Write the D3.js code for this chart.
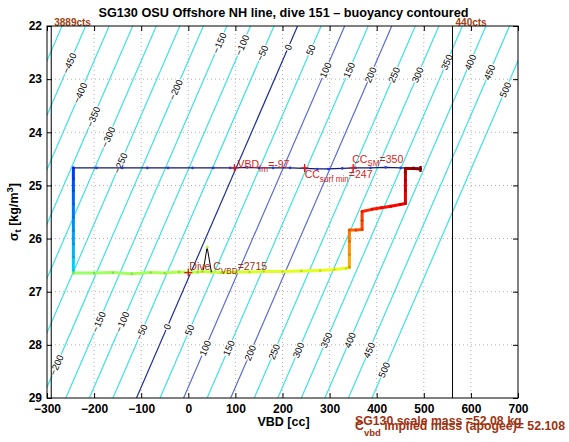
<!DOCTYPE html>
<html><head><meta charset="utf-8">
<script src="https://cdn.jsdelivr.net/npm/d3@7"></script>
<style>body{margin:0;background:#fff}svg{display:block}</style>
</head><body><svg id="c" width="569" height="442"></svg>
<script>
// ---------------- data ----------------
const xTicks = [-300,-200,-100,0,100,200,300,400,500,600,700];
const yTicks = [22,23,24,25,26,27,28,29];

// buoyancy contours: level, VBD where contour meets sigma=22 and sigma=29
const contourLevels     = [-500,-450,-400,-350,-300,-250,-200,-150,-100,-50,0,50,100,150,200,250,300,350,400,450,500];
const contourVbdTop     = [-268,-218,-168,-118,-68,-18,32,82,132,182,232,282,332,382,432,482,532,582,632,682,732];
const contourVbdBottom  = [-610,-560,-510,-460,-410,-360,-310,-260,-210,-160,-110,-60,-10,40,90,140,190,240,290,340,390];
const contourLabelSigmaTop    = [null,22.70,23.26,23.71,24.09,24.58,23.20,22.32,22.36,22.51,22.40,22.45,22.83,22.83,22.92,22.92,22.92,22.68,22.68,22.87,23.20];
const contourLabelSigmaBottom = [null,null,null,null,null,null,28.38,27.57,27.57,27.76,27.66,27.72,28.06,28.06,28.15,28.13,28.10,27.91,27.91,28.10,28.47];

// count limit lines
const countLineVbd   = [-291, 561];
const countLineLabel = ["3889cts", "440cts"];

// surface pump line (start of dive)
const surfaceVbd   = [493,478,451,419,387,355,327,297,274,247,216,180,150,125,98,89,53,9,-43,-87,-140,-195,-244];
const surfaceSigma = [24.68,24.67,24.67,24.66,24.67,24.67,24.68,24.69,24.69,24.68,24.67,24.67,24.67,24.66,24.67,24.67,24.67,24.67,24.67,24.67,24.67,24.67,24.67];

// dive trace (VBD, sigma_t, relative time)
const traceVbd = [-244,-244,-244,-244,-244,-244,-244,-244,-244,
  -244,-200,-160,-120,-80,-50,-20,0,20,30,49,70,100,130,160,200,240,280,310,335,342,
  342,342,342,342, 356,369, 369,369, 390,410,430,450,461, 461,461,461,461, 478,493];
const traceSigma = [24.67,24.88,25.10,25.35,25.60,25.85,26.10,26.35,26.60,
  26.65,26.65,26.64,26.66,26.64,26.65,26.63,26.64,26.63,26.62,26.63,26.64,26.63,26.63,26.62,26.62,26.61,26.60,26.58,26.56,26.54,
  26.54,26.30,26.05,25.84, 25.84,25.83, 25.66,25.49, 25.45,25.42,25.39,25.36,25.34, 25.10,24.90,24.75,24.68, 24.68,24.69];
const traceTime = [0.17,0.19,0.21,0.23,0.25,0.27,0.29,0.31,0.34,
  0.52,0.525,0.53,0.535,0.54,0.545,0.55,0.555,0.56,0.565,0.57,0.575,0.58,0.585,0.59,0.593,0.596,0.60,0.603,0.606,0.61,
  0.70,0.72,0.74,0.77, 0.79,0.80, 0.81,0.83, 0.85,0.86,0.87,0.88,0.89, 0.91,0.93,0.95,0.97, 0.98,1.0];

// lone spike near apogee
const spikeVbd   = [32, 40, 49];
const spikeSigma = [26.59, 26.16, 26.63];

// marked points
const markVbd   = [98, 247, 350, 0];
const markSigma = [24.67, 24.67, 24.67, 26.64];

// ---------------- drawing ----------------
const L=47, R=518, T=26, B=398;
const FONT = '"Liberation Sans", Arial, Helvetica, sans-serif';
const x = d3.scaleLinear().domain([-300,700]).range([L,R]);
const y = d3.scaleLinear().domain([22,29]).range([T,B]);
const svg = d3.select("#c").attr("font-family", FONT);
const minus = d => d < 0 ? "\u2212" + (-d) : String(d);

svg.append("defs").append("clipPath").attr("id","pc")
  .append("rect").attr("x",L).attr("y",T).attr("width",R-L).attr("height",B-T);

// grid
const grid = svg.append("g").attr("stroke","#a8a8a8").attr("stroke-width",0.9).attr("stroke-dasharray","1,3");
xTicks.slice(1,-1).forEach(v => grid.append("line").attr("x1",x(v)).attr("x2",x(v)).attr("y1",T).attr("y2",B));
yTicks.slice(1,-1).forEach(v => grid.append("line").attr("x1",L).attr("x2",R).attr("y1",y(v)).attr("y2",y(v)));

// contours
const contourColor = lev => lev === 0 ? "#1d2f96" : (lev === 100 || lev === 200) ? "#5a6cd2" : "#3fe0e4";
const cg = svg.append("g").attr("clip-path","url(#pc)");
const cline = d3.line().x(d => x(d[0])).y(d => y(d[1]));
contourLevels.forEach((lev,i) => {
  cg.append("path").attr("d", cline([[contourVbdTop[i],22],[contourVbdBottom[i],29]]))
    .attr("fill","none").attr("stroke",contourColor(lev)).attr("stroke-width",1.2);
});
// contour labels
const lg = svg.append("g").attr("font-size","9.5px").attr("fill","#000");
contourLevels.forEach((lev,i) => {
  const ang = Math.atan2(y(29)-y(22), x(contourVbdBottom[i])-x(contourVbdTop[i]))*180/Math.PI - 180;
  [contourLabelSigmaTop[i], contourLabelSigmaBottom[i]].forEach(s => {
    if (s == null) return;
    const f = (s-22)/7;
    const v = contourVbdTop[i] + f*(contourVbdBottom[i]-contourVbdTop[i]);
    lg.append("text").attr("transform",`translate(${x(v)},${y(s)}) rotate(${ang})`)
      .attr("text-anchor","middle").attr("dy","0.35em")
      .attr("stroke","#fff").attr("stroke-width",2.5).attr("paint-order","stroke")
      .text(minus(lev));
  });
});

// count lines
countLineVbd.forEach((v,i) => {
  svg.append("line").attr("x1",x(v)).attr("x2",x(v)).attr("y1",T).attr("y2",B).attr("stroke","#000").attr("stroke-width",1);
  svg.append("text").attr("x",x(v)+3).attr("y",T-0.5).attr("font-size","10px").attr("font-weight","bold")
    .attr("fill","#a0420f").text(countLineLabel[i]);
});

// surface line
const sPts = surfaceVbd.map((v,i) => [v, surfaceSigma[i]]);
svg.append("path").attr("d", cline(sPts)).attr("fill","none").attr("stroke","#101a70").attr("stroke-width",1.2);
svg.append("g").selectAll("circle").data(sPts).join("circle")
  .attr("cx",d=>x(d[0])).attr("cy",d=>y(d[1])).attr("r",1.3).attr("fill","#2236e6");

// trace
const jet = d3.scaleLinear().domain([0,0.125,0.375,0.625,0.875,1])
  .range(["#00008f","#0000ff","#00ffff","#ffff00","#ff0000","#800000"]).interpolate(d3.interpolateRgb);
const tg = svg.append("g");
for (let i=1;i<traceVbd.length;i++){
  tg.append("line").attr("x1",x(traceVbd[i-1])).attr("y1",y(traceSigma[i-1]))
    .attr("x2",x(traceVbd[i])).attr("y2",y(traceSigma[i]))
    .attr("stroke",jet((traceTime[i-1]+traceTime[i])/2)).attr("stroke-width",3).attr("stroke-linecap","round");
}
traceVbd.forEach((v,i) => {
  tg.append("circle").attr("cx",x(v)).attr("cy",y(traceSigma[i])).attr("r",1.2)
    .attr("fill", d3.color(jet(traceTime[i])).darker(0.5));
});
// end marker
tg.append("rect").attr("x",x(traceVbd[traceVbd.length-1])-1.2).attr("y",y(traceSigma[traceSigma.length-1])-3)
  .attr("width",2.4).attr("height",6).attr("fill","#7a0000");

// spike
svg.append("path").attr("d", cline(spikeVbd.map((v,i)=>[v,spikeSigma[i]]))).attr("fill","none").attr("stroke","#000").attr("stroke-width",1);
svg.append("circle").attr("cx",x(spikeVbd[1])).attr("cy",y(spikeSigma[1])).attr("r",1.6).attr("fill","#b8f040");

// markers
markVbd.forEach((v,i) => {
  const cx = x(v), cy = y(markSigma[i]);
  svg.append("path").attr("d",`M${cx-4},${cy}H${cx+4}M${cx},${cy-4}V${cy+4}`).attr("stroke","#e01818").attr("stroke-width",1.3);
});

// annotations
function sub(t, parts, sizeMain){
  parts.forEach(p => {
    const ts = t.append("tspan").text(p.t);
    if (p.sub) ts.attr("font-size", (sizeMain*0.78)+"px").attr("dy", p.dy);
    else if (p.dy) ts.attr("dy", p.dy);
  });
}
const red = "#d41c1c", brown = "#a0320f";
let t;
t = svg.append("text").attr("x",x(markVbd[0])+3).attr("y",y(markSigma[0])).attr("font-size","10.5px").attr("fill",red);
sub(t,[{t:"VBD"},{t:"fm",sub:true,dy:4},{t:"=-97",dy:-4}],10.5);
t = svg.append("text").attr("x",x(markVbd[1])).attr("y",y(markSigma[1])+10).attr("font-size","10.5px").attr("fill",red);
sub(t,[{t:"CC"},{t:"surf min",sub:true,dy:4},{t:"=247",dy:-4}],10.5);
t = svg.append("text").attr("x",x(markVbd[2])-1).attr("y",y(markSigma[2])-5).attr("font-size","10.5px").attr("fill",red);
sub(t,[{t:"CC"},{t:"SM",sub:true,dy:3},{t:"=350",dy:-3}],10.5);
t = svg.append("text").attr("x",x(markVbd[3])+1).attr("y",y(markSigma[3])-3).attr("font-size","10.5px").attr("fill",brown);
sub(t,[{t:"Dive C"},{t:"VBD",sub:true,dy:4},{t:"=2715",dy:-4}],10.5);

// axes
const styleAxis = g => { g.select(".domain").remove(); g.selectAll("line").attr("stroke","#000"); g.selectAll("text").attr("font-family",FONT).attr("font-size","12px").attr("font-weight","bold").attr("fill","#000"); };
svg.append("g").attr("transform",`translate(0,${B})`)
  .call(d3.axisBottom(x).tickValues(xTicks).tickSizeInner(-5).tickSizeOuter(0).tickPadding(6).tickFormat(minus)).call(styleAxis);
svg.append("g").attr("transform",`translate(0,${T})`)
  .call(d3.axisTop(x).tickValues(xTicks).tickSizeInner(-5).tickSizeOuter(0).tickFormat("")).call(styleAxis);
svg.append("g").attr("transform",`translate(${L},0)`)
  .call(d3.axisLeft(y).tickValues(yTicks).tickSizeInner(-5).tickSizeOuter(0).tickPadding(5).tickFormat(d3.format("d"))).call(styleAxis);
svg.append("g").attr("transform",`translate(${R},0)`)
  .call(d3.axisRight(y).tickValues(yTicks).tickSizeInner(-5).tickSizeOuter(0).tickFormat("")).call(styleAxis);
svg.append("rect").attr("x",L).attr("y",T).attr("width",R-L).attr("height",B-T).attr("fill","none").attr("stroke","#000").attr("stroke-width",1);

// titles
svg.append("text").attr("x",(L+R)/2+1).attr("y",16.5).attr("text-anchor","middle").attr("font-size","12.7px").attr("font-weight","bold")
  .text("SG130 OSU Offshore NH line, dive 151 \u2013 buoyancy contoured");
svg.append("text").attr("x",(L+R)/2+1).attr("y",426).attr("text-anchor","middle").attr("font-size","12.5px").attr("font-weight","bold")
  .text("VBD [cc]");
t = svg.append("text").attr("transform",`translate(18,${(T+B)/2}) rotate(-90)`).attr("text-anchor","middle").attr("font-size","12.5px").attr("font-weight","bold");
t.append("tspan").text("\u03c3");
t.append("tspan").attr("font-size","9.5px").attr("dy",3).text("t");
t.append("tspan").attr("dy",-3).text(" [kg/m");
t.append("tspan").attr("font-size","9.5px").attr("dy",-5).text("3");
t.append("tspan").attr("dy",5).text("]");

// bottom-right mass notes
svg.append("text").attr("x",355).attr("y",425).attr("font-size","12.3px").attr("font-weight","bold").attr("fill",brown)
  .text("SG130 scale mass =52.08 kg");
t = svg.append("text").attr("x",355).attr("y",430).attr("font-size","12.3px").attr("font-weight","bold").attr("fill",brown);
t.append("tspan").text("C");
t.append("tspan").attr("font-size","9.5px").attr("dy",6).text("vbd");
t.append("tspan").attr("dy",-6).text(" implied mass (apogee)= 52.108");
</script></body></html>
